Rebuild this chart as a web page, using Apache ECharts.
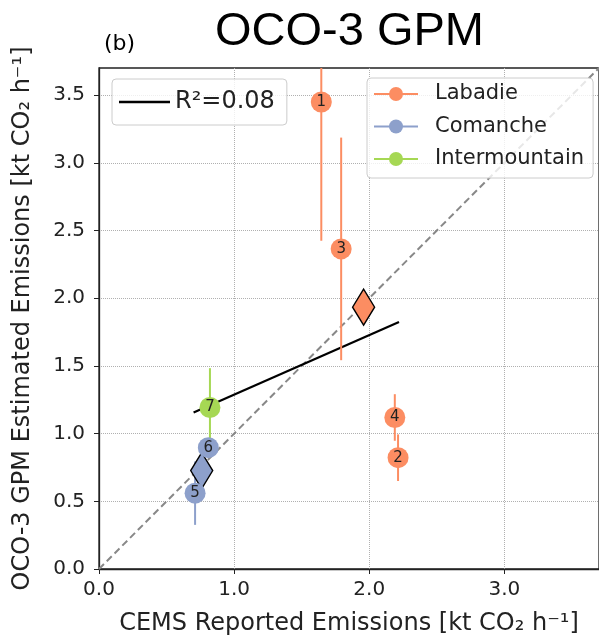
<!DOCTYPE html>
<html><head><meta charset="utf-8">
<script src="https://cdn.jsdelivr.net/npm/echarts@6/dist/echarts.min.js"></script>
<style>html,body{margin:0;padding:0;background:#fff}#c{width:599px;height:641px}</style>
</head><body><div id="c"></div>
<script>
// ---- data ----
const siteNames = ['Labadie', 'Comanche', 'Intermountain'];
const siteColors = ['#fc8d62', '#8da0cb', '#a6d854'];

const labadieIds = ['1', '2', '3', '4'];
const labadieX = [1.645, 2.213, 1.792, 2.189];
const labadieY = [3.449, 0.822, 2.364, 1.119];
const labadieErr = [1.024, 0.172, 0.822, 0.172];

const comancheIds = ['5', '6'];
const comancheX = [0.711, 0.809];
const comancheY = [0.560, 0.896];
const comancheErr = [0.234, 0.06];

const intermountainIds = ['7'];
const intermountainX = [0.821];
const intermountainY = [1.193];
const intermountainErr = [0.29];

// site means (diamonds): Labadie, Comanche
const meanX = [1.958, 0.760];
const meanY = [1.934, 0.727];

// linear fit
const fitX = [0.70, 2.22];
const fitY = [1.155, 1.825];
const fitLabel = 'R²=0.08';

// 1:1 reference line
const oneToOneX = [0, 4];
const oneToOneY = [0, 4];

const xTickValues = [0, 1, 2, 3];
const yTickValues = [0, 0.5, 1, 1.5, 2, 2.5, 3, 3.5];

const sites = [
  {ids: labadieIds, x: labadieX, y: labadieY, err: labadieErr},
  {ids: comancheIds, x: comancheX, y: comancheY, err: comancheErr},
  {ids: intermountainIds, x: intermountainX, y: intermountainY, err: intermountainErr}
];

const FONT = 'DejaVu Sans';
const zip2 = (a, b) => a.map((v, i) => [v, b[i]]);

const series = [];
series.push({
  type: 'line', name: '1:1', data: zip2(oneToOneX, oneToOneY), symbol: 'none', z: 1,
  lineStyle: {color: '#888888', width: 2, type: [7, 4]}, silent: true, clip: true
});
series.push({
  type: 'line', name: fitLabel, data: zip2(fitX, fitY), symbol: 'none', z: 2,
  itemStyle: {color: '#000'}, lineStyle: {color: '#000', width: 2.2}, silent: true
});
sites.forEach((s, k) => {
  series.push({
    type: 'custom', name: siteNames[k] + ' err', z: 3, clip: true, silent: true,
    data: s.x.map((v, i) => [v, s.y[i], s.err[i]]),
    renderItem: (params, api) => {
      const x = api.value(0), y = api.value(1), e = api.value(2);
      const p1 = api.coord([x, y - e]), p2 = api.coord([x, y + e]);
      return {type: 'line', shape: {x1: p1[0], y1: p1[1], x2: p2[0], y2: p2[1]},
        style: {stroke: siteColors[k], lineWidth: 2}};
    }
  });
});
// mean diamonds
[0, 1].forEach(k => {
  series.push({
    type: 'scatter', name: siteNames[k] + ' mean', z: 4, silent: true,
    data: [[meanX[k], meanY[k]]], symbol: 'diamond', symbolSize: [22, 36],
    itemStyle: {color: siteColors[k], borderColor: '#000', borderWidth: 1.5, opacity: 1}
  });
});
// observation circles (line type, invisible line, so the legend shows line+marker)
sites.forEach((s, k) => {
  series.push({
    type: 'line', name: siteNames[k], z: 5, silent: true,
    data: zip2(s.x, s.y), symbol: 'circle', symbolSize: 21, showSymbol: true,
    itemStyle: {color: siteColors[k], opacity: 1},
    lineStyle: {width: 0, opacity: 0},
    label: {show: true, position: 'inside', formatter: p => s.ids[p.dataIndex],
      fontSize: 15, color: '#222', fontFamily: FONT}
  });
});

const chart = echarts.init(document.getElementById('c'), null, {renderer: 'canvas'});
chart.setOption({
  animation: false,
  backgroundColor: '#fff',
  title: [
    {text: 'OCO-3 GPM', left: 210, top: 4,
      textStyle: {fontFamily: 'Liberation Sans', fontSize: 47, fontWeight: 'normal', color: '#000'}},
    {text: '(b)', left: 99, top: 28,
      textStyle: {fontFamily: FONT, fontSize: 22, fontWeight: 'normal', color: '#000'}}
  ],
  grid: {left: 99, top: 68, right: -3, bottom: 70, show: true, borderColor: '#222', borderWidth: 1.3},
  xAxis: {
    type: 'value', min: 0, max: 3.7, interval: 1,
    name: 'CEMS Reported Emissions [kt CO₂ h⁻¹]', nameLocation: 'middle', nameGap: 43,
    nameTextStyle: {fontFamily: FONT, fontSize: 24, color: '#222'},
    axisLine: {show: true, lineStyle: {color: '#222', width: 1.3}},
    axisTick: {show: true, length: 5, customValues: xTickValues, lineStyle: {color: '#222'}},
    axisLabel: {customValues: xTickValues, formatter: v => v.toFixed(1), fontFamily: FONT, fontSize: 20, color: '#222', margin: 11},
    splitLine: {show: true, lineStyle: {color: '#b0b0b0', type: 'dotted', width: 1}}
  },
  yAxis: {
    type: 'value', min: 0, max: 3.7, interval: 0.5,
    name: 'OCO-3 GPM Estimated Emissions [kt CO₂ h⁻¹]', nameLocation: 'middle', nameGap: 64,
    nameTextStyle: {fontFamily: FONT, fontSize: 24, color: '#222'},
    axisLine: {show: true, lineStyle: {color: '#222', width: 1.3}},
    axisTick: {show: true, length: 5, customValues: yTickValues, lineStyle: {color: '#222'}},
    axisLabel: {customValues: yTickValues, formatter: v => v.toFixed(1), fontFamily: FONT, fontSize: 20, color: '#222', margin: 14},
    splitLine: {show: true, lineStyle: {color: '#b0b0b0', type: 'dotted', width: 1}}
  },
  legend: [
    {
      data: [{name: fitLabel, icon: 'rect'}], left: 112, top: 79, orient: 'vertical',
      itemWidth: 51, itemHeight: 2.5, padding: [10, 12, 10, 7],
      textStyle: {fontFamily: FONT, fontSize: 24, color: '#222', lineHeight: 26},
      borderColor: '#cccccc', borderWidth: 1, borderRadius: 4, backgroundColor: 'rgba(255,255,255,0.8)',
      selectedMode: false
    },
    {
      data: siteNames, left: 367, top: 78, orient: 'vertical',
      itemWidth: 44, itemHeight: 17.5, itemGap: 10.5, padding: [5, 9, 8, 6],
      lineStyle: {width: 2, opacity: 1},
      textStyle: {fontFamily: FONT, fontSize: 21, color: '#222', lineHeight: 22, padding: [0, 0, 0, 12]},
      borderColor: '#cccccc', borderWidth: 1, borderRadius: 4, backgroundColor: 'rgba(255,255,255,0.8)',
      selectedMode: false
    }
  ],
  series: series
});
</script></body></html>
